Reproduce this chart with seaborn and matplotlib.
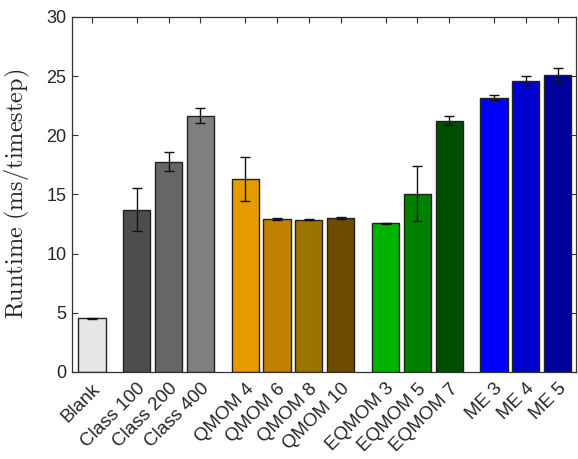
import matplotlib
matplotlib.use('Agg')
import matplotlib.pyplot as plt
import seaborn as sns

labels = ['Blank', 'Class 100', 'Class 200', 'Class 400',
          'QMOM 4', 'QMOM 6', 'QMOM 8', 'QMOM 10',
          'EQMOM 3', 'EQMOM 5', 'EQMOM 7',
          'ME 3', 'ME 4', 'ME 5']
positions = [0, 1.4, 2.4, 3.4, 4.8, 5.8, 6.8, 7.8, 9.2, 10.2, 11.2, 12.6, 13.6, 14.6]
runtime = [4.52, 13.7, 17.75, 21.65, 16.3, 12.9, 12.85, 13.04,
           12.54, 15.07, 21.24, 23.19, 24.6, 25.1]
runtime_err = [0.03, 1.8, 0.8, 0.62, 1.85, 0.1, 0.05, 0.08,
               0.05, 2.3, 0.37, 0.24, 0.38, 0.6]
colors = ['#e6e6e6', '#4d4d4d', '#666666', '#808080',
          '#e69b00', '#c08000', '#9a7300', '#6b4c00',
          '#00b300', '#008000', '#004d00',
          '#0000ff', '#0000cc', '#00009a']

sns.set_style('white')
plt.rcParams['font.family'] = ['Liberation Sans', 'DejaVu Sans']
plt.rcParams['mathtext.fontset'] = 'cm'

fig = plt.figure(figsize=(5.78, 4.59), dpi=100)
ax = fig.add_axes([0.1246, 0.19, 0.8725, 0.773])

sns.barplot(x=positions, y=runtime, hue=labels, palette=colors, native_scale=True,
            dodge=False, legend=False, width=0.85, edgecolor='#222222', linewidth=1.0,
            saturation=1, ax=ax)
ax.errorbar(positions, runtime, yerr=runtime_err, fmt='none', ecolor='#111111',
            elinewidth=1.0, capsize=3.5, capthick=1.0)

ax.set_xlim(-0.625, 15.18)
ax.set_ylim(0, 30)
ax.set_yticks([0, 5, 10, 15, 20, 25, 30])
ax.set_xticks(positions)
ax.set_xticklabels(labels, rotation=45, ha='right', rotation_mode='anchor', fontsize=13.5)
ax.tick_params(axis='y', labelsize=13)
ax.tick_params(direction='in', length=4, width=0.8, color='#333333',
               top=True, right=True, bottom=True, left=True, pad=4)
ax.tick_params(axis='x', pad=6)
for s in ax.spines.values():
    s.set_color('#333333')
    s.set_linewidth(0.9)

ax.set_ylabel(r'$\mathrm{Runtime\ (ms/timestep)}$', fontsize=17.5)
ax.yaxis.set_label_coords(-0.08, 0.5)

fig.savefig('out.png', dpi=100)
